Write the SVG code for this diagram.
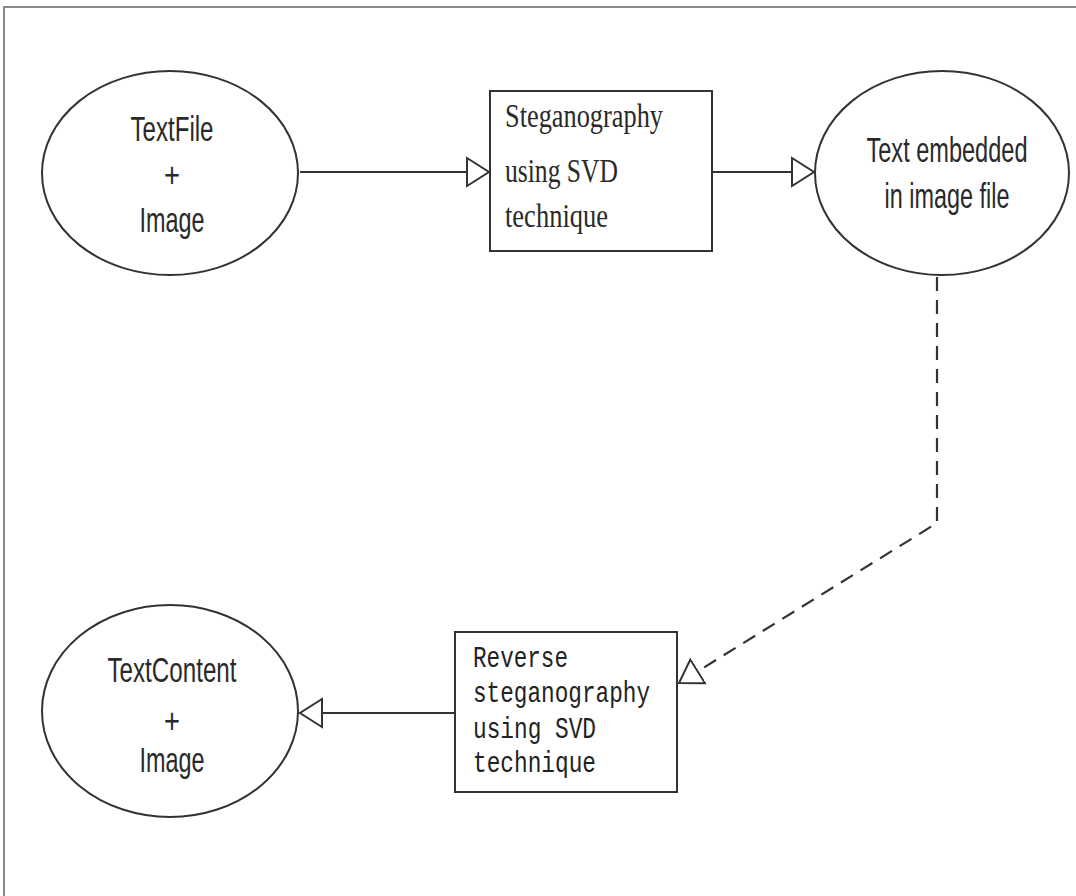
<svg xmlns="http://www.w3.org/2000/svg" width="1076" height="896" viewBox="0 0 1076 896">
<style>
.shape{fill:#fff;stroke:#333;stroke-width:2}
.conn{fill:none;stroke:#333;stroke-width:2.2}
.dash{stroke-dasharray:14 9}
.sans{font-family:"Liberation Sans",Arial,sans-serif;font-size:35px;fill:#2a2a2a;text-anchor:middle}
.serif{font-family:"Liberation Serif","Times New Roman",serif;font-size:33px;fill:#2a2a2a}
.mono{font-family:"Liberation Mono","Courier New",monospace;font-size:30px;fill:#222}
</style>
<defs>
<marker id="tri" markerUnits="userSpaceOnUse" markerWidth="26" markerHeight="34" refX="23" refY="16" orient="auto">
<path d="M1,2 L23,16 L1,30 Z" fill="#fff" stroke="#333" stroke-width="2"/>
</marker>
</defs>
<rect width="1076" height="896" fill="#fff"/>
<path d="M1076,7 H4 V896" fill="none" stroke="#8a8a8a" stroke-width="2"/>
<g id="connectors">
<line class="conn" x1="300" y1="172" x2="489" y2="172" marker-end="url(#tri)"/>
<line class="conn" x1="712" y1="172" x2="814" y2="172" marker-end="url(#tri)"/>
<path class="conn dash" d="M937,277 V523 L679,683" marker-end="url(#tri)"/>
<line class="conn" x1="455" y1="713" x2="300" y2="713" marker-end="url(#tri)"/>
</g>
<g id="textfile-image">
<ellipse class="shape" cx="170" cy="173" rx="128" ry="102"/>
<text class="sans" x="172" y="141" textLength="83" lengthAdjust="spacingAndGlyphs">TextFile</text>
<text class="sans" x="172" y="187" textLength="16" lengthAdjust="spacingAndGlyphs">+</text>
<text class="sans" x="172" y="232" textLength="65" lengthAdjust="spacingAndGlyphs">Image</text>
</g>
<g id="steganography">
<rect class="shape" x="490" y="91" width="222" height="160"/>
<text class="serif" x="505" y="127" textLength="158" lengthAdjust="spacingAndGlyphs">Steganography</text>
<text class="serif" x="505" y="182" textLength="113" lengthAdjust="spacingAndGlyphs">using SVD</text>
<text class="serif" x="505" y="227" textLength="103" lengthAdjust="spacingAndGlyphs">technique</text>
</g>
<g id="text-embedded">
<ellipse class="shape" cx="942" cy="173" rx="127" ry="102"/>
<text class="sans" x="947" y="162" textLength="161" lengthAdjust="spacingAndGlyphs">Text embedded</text>
<text class="sans" x="947" y="208" textLength="125" lengthAdjust="spacingAndGlyphs">in image file</text>
</g>
<g id="reverse-steganography">
<rect class="shape" x="455" y="632" width="222" height="160"/>
<text class="mono" x="473" y="667" textLength="95" lengthAdjust="spacingAndGlyphs">Reverse</text>
<text class="mono" x="473" y="702" textLength="177" lengthAdjust="spacingAndGlyphs">steganography</text>
<text class="mono" x="473" y="738" textLength="123" lengthAdjust="spacingAndGlyphs">using SVD</text>
<text class="mono" x="473" y="772" textLength="123" lengthAdjust="spacingAndGlyphs">technique</text>
</g>
<g id="textcontent-image">
<ellipse class="shape" cx="170" cy="711" rx="128" ry="106"/>
<text class="sans" x="172" y="682" textLength="129" lengthAdjust="spacingAndGlyphs">TextContent</text>
<text class="sans" x="172" y="733" textLength="16" lengthAdjust="spacingAndGlyphs">+</text>
<text class="sans" x="172" y="772" textLength="65" lengthAdjust="spacingAndGlyphs">Image</text>
</g>
</svg>
